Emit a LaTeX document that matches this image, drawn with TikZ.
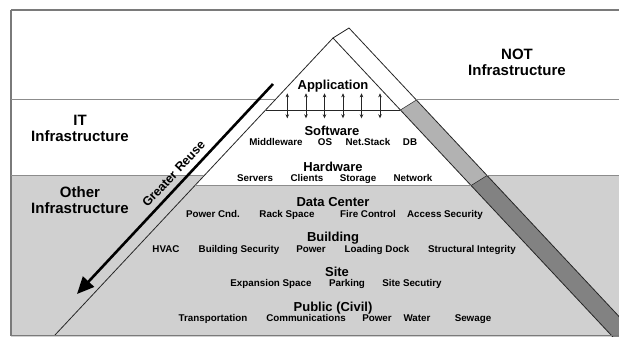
\documentclass[tikz,border=0pt]{standalone}
\usepackage{fontspec}
\setmainfont{Liberation Sans}
\usetikzlibrary{arrows.meta}
\definecolor{bg}{HTML}{D0D0D0}
\definecolor{stripL}{HTML}{B2B2B2}
\definecolor{stripD}{HTML}{828282}
\definecolor{frameline}{HTML}{7A7A7A}
\definecolor{bandline}{HTML}{8C8C8C}
\definecolor{edge}{HTML}{262626}
\tikzset{
  big/.style={font=\fontsize{15}{16}\selectfont\bfseries, align=center, inner sep=0pt},
  title/.style={font=\fontsize{13}{14}\selectfont\bfseries, anchor=base, inner sep=0pt},
  item/.style={font=\fontsize{9.8}{11}\selectfont\bfseries, anchor=base, inner sep=0pt},
  frame/.style={draw=frameline, line width=1.1pt},
  band/.style={draw=bandline, line width=1pt},
  pyr/.style={draw=edge, line width=0.8pt, line join=miter},
  twoway/.style={draw=edge, line width=0.6pt, {Stealth[length=4pt,width=3.5pt]}-{Stealth[length=4pt,width=3.5pt]}},
  reuse/.style={draw=black, line width=2.6pt, -{Triangle[length=17pt,width=15pt]}}
}
\begin{document}
\begin{tikzpicture}[x=1pt,y=-1pt]
\useasboundingbox (0,0) rectangle (619,337);
% key points
\coordinate (apex) at (333,38);
\coordinate (bl) at (55,335);
\coordinate (br) at (611,335);
\coordinate (capR) at (349,28);
\begin{scope}
  \clip (11,10) rectangle (619,336);
  % gray lower band
  \fill[bg] (11,175.5) rectangle (625,340);
  % pyramid face
  \fill[white] (apex) -- (bl) -- (br) -- cycle;
  \fill[bg] (194.6,185.5) -- (471.1,185.5) -- (br) -- (bl) -- cycle;
  % side strip
  \fill[white] (apex) -- (capR) -- (416.4,100) -- (400.4,110) -- cycle;
  \fill[stripL] (400.4,110) -- (416.4,100) -- (487.1,175.5) -- (471.1,185.5) -- cycle;
  \fill[stripD] (471.1,185.5) -- (487.1,175.5) -- (645.7,345) -- (620.4,345) -- cycle;
  \draw[pyr] (capR) -- (645.7,345);
  \draw[draw=edge, line width=0.5pt] (400.4,110) -- (416.4,100);
  \draw[draw=edge, line width=0.5pt] (471.1,185.5) -- (487.1,175.5);
  \draw[pyr] (bl) -- (apex) -- (620.4,345);
  \draw[pyr] (apex) -- (capR);
\end{scope}
% frame
\draw[frame] (11,10) -- (619,10);
\draw[frame] (11,10) -- (11,336);
\draw[frame] (11,335.6) -- (619,335.6);
% band lines
\draw[band] (11,100) -- (275,100);
\draw[band] (416.4,100) -- (619,100);
\draw[band] (11,175.5) -- (204.3,175.5);
\draw[band] (487.1,175.5) -- (619,175.5);
\draw[band] (194.6,185.5) -- (471.1,185.5);
\draw[draw=edge, line width=0.6pt] (265.6,110) -- (400.4,110);
% two-way arrows
\foreach \i/\x in {1/287.3,2/306,3/324.5,4/343,5/361.5,6/380}{
  \coordinate (at\i) at (\x,93.3);
  \coordinate (ab\i) at (\x,118.3);
  \draw[twoway] (at\i) -- (ab\i);
}
% greater reuse arrow
\coordinate (rs) at (273,84);
\coordinate (re) at (77,294);
\draw[reuse] (rs) -- (re);
\node[rotate=47, font=\fontsize{12.5}{14}\selectfont\bfseries, inner sep=0pt] (gr) at (173.6,173.8) {Greater Reuse};
% side labels
\node[big] (it) at (80,128) {IT\\Infrastructure};
\node[big] (other) at (80,200) {Other\\Infrastructure};
\node[big] (not) at (517,62) {NOT\\Infrastructure};
% layer titles
\node[title] (app) at (333,89.7) {Application};
\node[title] (sw) at (332,135.7) {Software};
\node[title] (hw) at (333,171.7) {Hardware};
\node[title] (dc) at (333,206.7) {Data Center};
\node[title] (bd) at (333,241.7) {Building};
\node[title] (site) at (337,276.7) {Site};
\node[title] (pub) at (333,311.7) {Public (Civil)};
% items
\node[item] (mw) at (276,145.6) {Middleware};
\node[item] (os) at (325,145.6) {OS};
\node[item] (ns) at (368,145.6) {Net.Stack};
\node[item] (db) at (410,145.6) {DB};
\node[item] (sv) at (255,181.6) {Servers};
\node[item] (cl) at (307,181.6) {Clients};
\node[item] (st) at (358,181.6) {Storage};
\node[item] (nw) at (413,181.6) {Network};
\node[item] (pc) at (213,217.6) {Power Cnd.};
\node[item] (rs2) at (287,217.6) {Rack Space};
\node[item] (fc) at (368,217.6) {Fire Control};
\node[item] (as) at (445,217.6) {Access Security};
\node[item] (hv) at (166,252.6) {HVAC};
\node[item] (bs) at (239,252.6) {Building Security};
\node[item] (pw) at (311,252.6) {Power};
\node[item] (ld) at (377,252.6) {Loading Dock};
\node[item] (si) at (472,252.6) {Structural Integrity};
\node[item] (es) at (271,286.6) {Expansion Space};
\node[item] (pk) at (347,286.6) {Parking};
\node[item] (ss) at (412,286.6) {Site Secutiry};
\node[item] (tr) at (213,321.6) {Transportation};
\node[item] (cm) at (306,321.6) {Communications};
\node[item] (pw2) at (377,321.6) {Power};
\node[item] (wt) at (417,321.6) {Water};
\node[item] (sg) at (473,321.6) {Sewage};
\end{tikzpicture}
\end{document}
